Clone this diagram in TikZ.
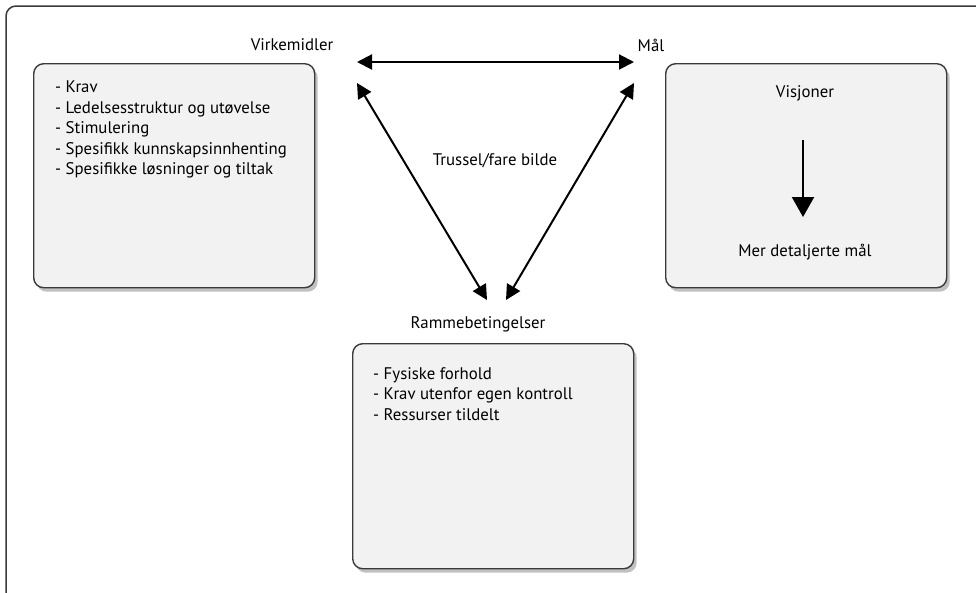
\documentclass[tikz,border=0pt]{standalone}
\usepackage{fontspec}
\setmainfont{PT Sans}
\usetikzlibrary{arrows.meta}
\usetikzlibrary{shadows}
\tikzset{>={Triangle[width=15pt,length=15pt]}}
\definecolor{boxgray}{HTML}{F2F2F2}
\definecolor{edgegray}{HTML}{3A3A3A}
\tikzset{
  infobox/.style={draw=edgegray, line width=1.4pt, fill=boxgray,
    rounded corners=10pt, anchor=north west, inner sep=0pt,
    drop shadow={shadow xshift=3pt, shadow yshift=-4pt, opacity=0.35,
      fill=black!70}},
  boxtext/.style={anchor=north west, align=left, inner sep=0pt,
    font=\fontsize{16.8}{20.5}\selectfont},
  lbl/.style={inner sep=0pt, font=\fontsize{16.8}{18}\selectfont},
  link/.style={<->, line width=2pt}
}

\begin{document}
\begin{tikzpicture}[x=1pt,y=-1pt]

  \useasboundingbox (0,0) rectangle (976,592);

  %% outer frame, only top and left show
  \draw[edgegray, line width=1.5pt, rounded corners=10pt]
  (6,600) -- (6,6) -- (990,6);

  %% boxes
  \node[infobox, minimum width=281pt, minimum height=224pt] (virkbox) at (33,63) {};
  \node[infobox, minimum width=281pt, minimum height=224pt] (maalbox) at (665,63) {};
  \node[infobox, minimum width=281pt, minimum height=225pt] (rammebox) at (352,343) {};

  %% titles
  \node[lbl] (virk) at (292,45) {Virkemidler};
  \node[lbl] (maal) at (651,45) {Mål};
  \node[lbl] (ramme) at (478,324) {Rammebetingelser};
  \node[lbl] (trussel) at (495,161) {Trussel/fare bilde};

  %% box contents
  \node[boxtext] (virktext) at (55,81) {- Krav\\- Ledelsesstruktur og utøvelse\\- Stimulering\\- Spesifikk kunnskapsinnhenting\\- Spesifikke løsninger og tiltak};
  \node[boxtext] (rammetext) at (373,367) {- Fysiske forhold\\- Krav utenfor egen kontroll\\- Ressurser tildelt};

  \node[lbl] (visjon) at (805,93) {Visjoner};
  \node[lbl] (detalj) at (805,252) {Mer detaljerte mål};
  \coordinate (vtop) at (803,140);
  \coordinate (vbot) at (803,217);
  \draw[-{Triangle[width=22pt,length=20pt]}, line width=2.2pt] (vtop) -- (vbot);

  %% arrow ends of the triangle
  \coordinate (hl) at (357,62);
  \coordinate (hr) at (634,62);
  \coordinate (dl) at (357,83);
  \coordinate (dr) at (634,83);
  \coordinate (bl) at (487,300);
  \coordinate (br) at (506,300);

  \draw[link] (hl) -- (hr); %% virkemidler <-> maal
  \draw[link] (dl) -- (bl); %% virkemidler <-> ramme
  \draw[link] (dr) -- (br); %% maal <-> ramme

\end{tikzpicture}
\end{document}
